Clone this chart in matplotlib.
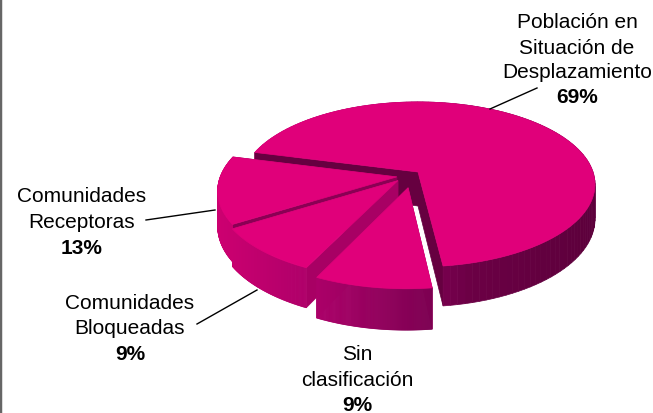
import numpy as np
import matplotlib
matplotlib.use("Agg")
import matplotlib.pyplot as plt

plt.rcParams['font.family'] = ['Liberation Sans', 'DejaVu Sans']

# order is counter clockwise from the start angle
categorias = ["Población en Situación de Desplazamiento", "Comunidades Receptoras",
              "Comunidades Bloqueadas", "Sin clasificación"]
valores = [69, 13, 9, 9]
# how far each slice is pulled from the centre (pie units)
offset_u = [0, -0.12, -0.113, -0.055]
offset_v = [0, -0.06, -0.105, -0.19]

TOP = "#e0007a"
cut_colors = ["#660040", "#8a0054", "#a80064", "#a80064"]
cx, cy, rx, ry, k, depth = 418, 173, 175, 80.6, 0.15, 34
shade_x = [220, 320, 430, 470, 600]
shade_c = [(0.80, 0, 0.44), (0.67, 0, 0.41), (0.49, 0, 0.32), (0.42, 0, 0.27), (0.36, 0, 0.23)]


def proj(u, v):
    w = 1 + k * v
    return cx + rx * u / w, cy - ry * v / w, depth / w


def side_color(x):
    return [np.interp(x, shade_x, [c[i] for c in shade_c]) for i in range(3)]


fig = plt.figure(figsize=(6.53, 4.14), dpi=100)

# pie on a hidden axes, only used to get the wedge angles
pie_ax = fig.add_axes([0, 0, 1, 1])
wedges = pie_ax.pie(valores, startangle=-83, counterclock=True)[0]
pie_ax.set_visible(False)

ax = fig.add_axes([0, 0, 1, 1])
ax.set_xlim(0, 653)
ax.set_ylim(414, 0)
ax.set_xticks([])
ax.set_yticks([])
for s in ["top", "right", "bottom"]:
    ax.spines[s].set_visible(False)
ax.spines["left"].set_color("#666666")
ax.spines["left"].set_linewidth(2.5)

for n, w in enumerate(wedges):
    t = np.radians(np.linspace(w.theta1, w.theta2, 120))
    ou, ov = offset_u[n], offset_v[n]
    u = np.concatenate([[ou], ou + w.r * np.cos(t), [ou]])
    v = np.concatenate([[ov], ov + w.r * np.sin(t), [ov]])
    x, y, d = proj(u, v)

    quads = []
    for i in range(len(u) - 1):
        is_cut = i == 0 or i == len(u) - 2
        quads.append(((v[i] + v[i + 1]) / 2, i, is_cut))
    # far side first
    quads.sort(key=lambda q: -q[0])
    for _, i, is_cut in quads:
        col = cut_colors[n] if is_cut else side_color((x[i] + x[i + 1]) / 2)
        ax.fill([x[i], x[i + 1], x[i + 1], x[i]],
                [y[i], y[i + 1], y[i + 1] + d[i + 1], y[i] + d[i]],
                color=col, lw=0.5)
    ax.fill(x, y, color=TOP, lw=0.5)

# leader lines
ax.plot([490, 537], [110, 89], color="black", lw=1)
ax.plot([146, 215], [221, 211], color="black", lw=1)
ax.plot([197, 257], [325, 291], color="black", lw=1)

fs = 15
for tx, ty, s, b in [
    (577, 23, "Población en", False), (577, 48, "Situación de", False),
    (577, 72, "Desplazamiento", False), (577, 98, "69%", True),
    (82, 197, "Comunidades", False), (82, 223, "Receptoras", False), (82, 249, "13%", True),
    (130, 304, "Comunidades", False), (130, 329, "Bloqueadas", False), (130, 355, "9%", True),
    (357, 355, "Sin", False), (357, 381, "clasificación", False), (357, 406, "9%", True),
]:
    ax.text(tx, ty, s, ha="center", va="center", fontsize=fs,
            fontweight="bold" if b else "normal", color="black")

fig.savefig("out.png", dpi=100)
